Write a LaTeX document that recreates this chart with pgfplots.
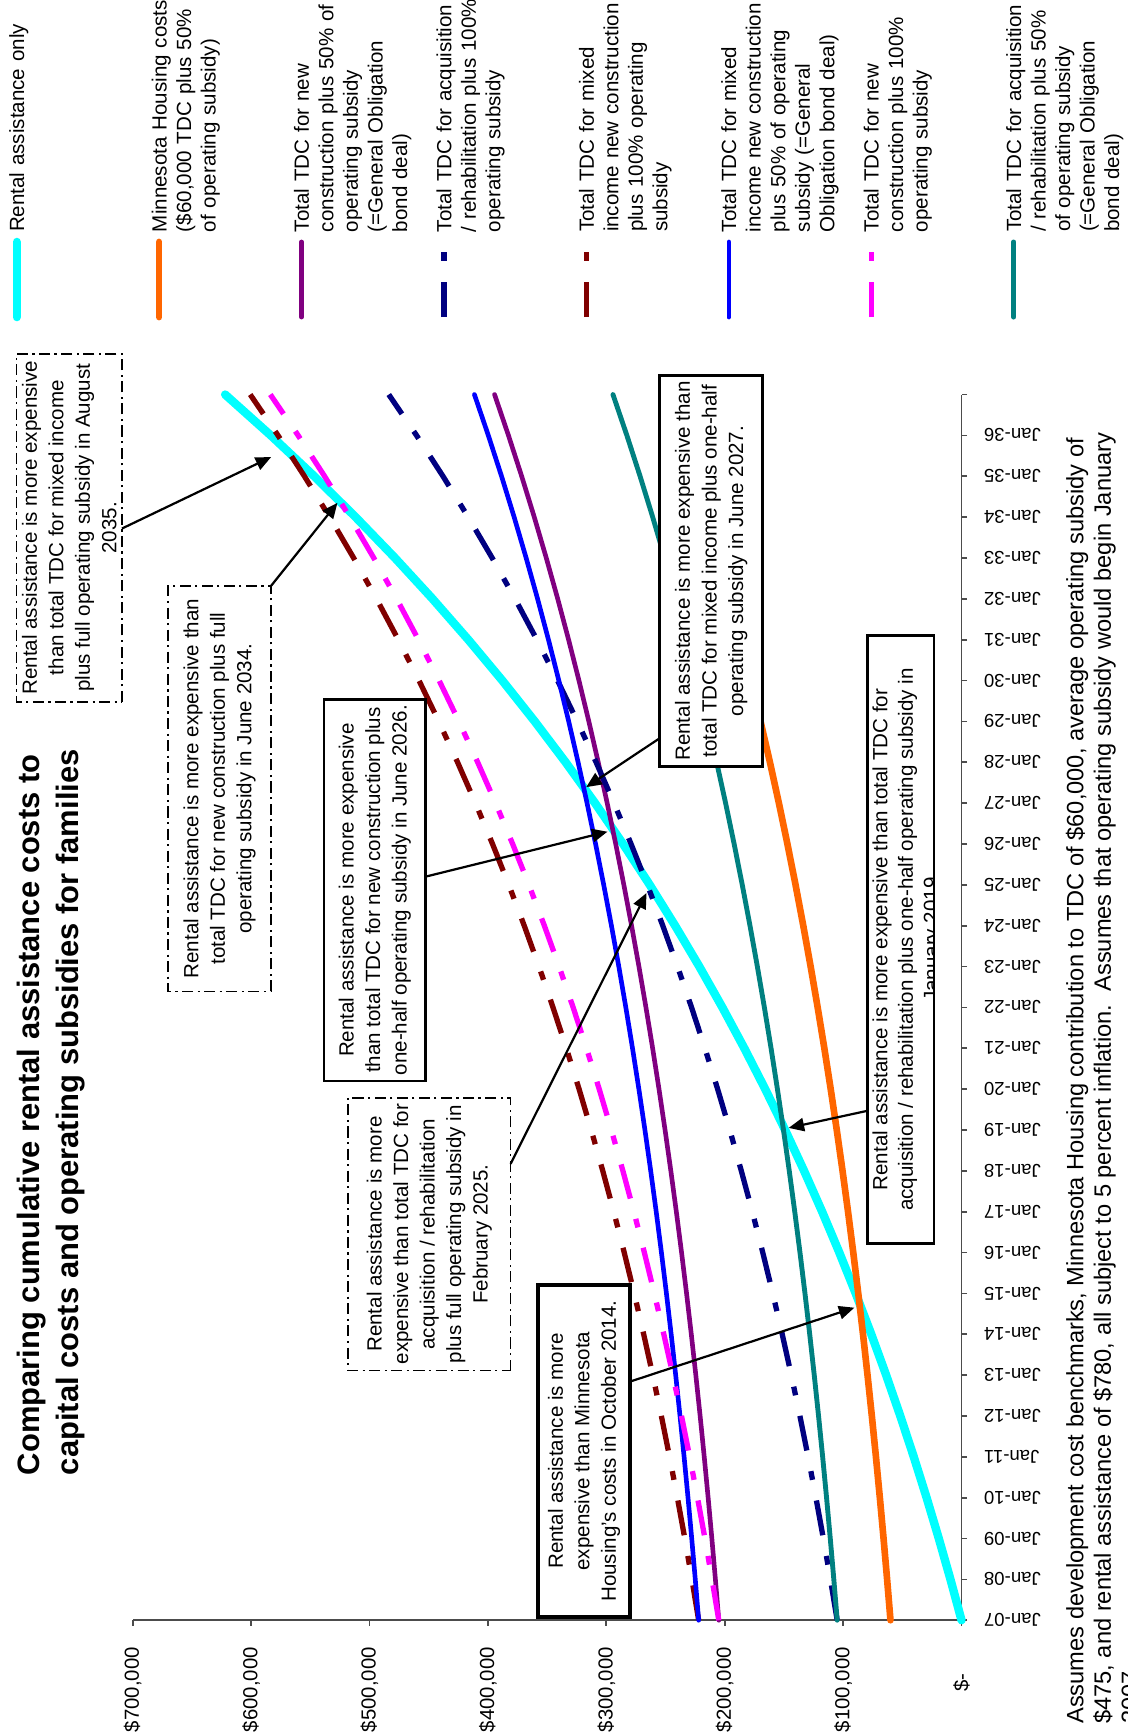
\documentclass[border=0pt]{standalone}
\usepackage{pgfplots}
\pgfplotsset{compat=1.18}
\usepackage{pgfplotstable}
\usepackage{fontspec}
\setmainfont{Liberation Sans}
\usetikzlibrary{arrows.meta}

\definecolor{cRent}{HTML}{00FFFF}
\definecolor{cMN}{HTML}{FF6600}
\definecolor{cPurple}{HTML}{800080}
\definecolor{cNavy}{HTML}{000080}
\definecolor{cMaroon}{HTML}{800000}
\definecolor{cBlue}{HTML}{0000FF}
\definecolor{cMagenta}{HTML}{FF00FF}
\definecolor{cTeal}{HTML}{008080}

\pgfplotstableread{
n rent mn newhalf acqfull mixfull mixhalf newfull acqhalf
0 0 60000 205000 105000 222000 222000 205000 105000
1 9360 62850 207850 110700 227700 224850 210700 107850
2 19188 65843 210843 116686 233686 227843 216686 110843
3 29507 68985 213985 122970 239970 230985 222970 113985
4 40343 72284 217284 129568 246568 234284 229568 117284
5 51720 75748 220748 136496 253496 237748 236496 120748
6 63666 79385 224385 143770 260770 241385 243770 124385
7 76209 83205 228205 151410 268410 245205 251410 128205
8 89380 87215 232215 159430 276430 249215 259430 132215
9 103209 91426 236426 167852 284852 253426 267852 136426
10 117729 95847 240847 176694 293694 257847 276694 140847
11 132976 100489 245489 185978 302978 262489 285978 145489
12 148984 105364 250364 195728 312728 267364 295728 150364
13 165794 110482 255482 205964 322964 272482 305964 155482
14 183443 115856 260856 216712 333712 277856 316712 160856
15 201976 121499 266499 227998 344998 283499 327998 166499
16 221434 127424 272424 239848 356848 289424 339848 172424
17 241866 133645 278645 252290 369290 295645 352290 178645
18 263319 140177 285177 265354 382354 302177 365354 185177
19 285845 147036 292036 279072 396072 309036 379072 192036
20 309498 154238 299238 293476 410476 316238 393476 199238
21 334333 161800 306800 308600 425600 323800 408600 206800
22 360409 169740 314740 324480 441480 331740 424480 214740
23 387789 178077 323077 341154 458154 340077 441154 223077
24 416539 186831 331831 358662 475662 348831 458662 231831
25 446726 196022 341022 377044 494044 358022 477044 241022
26 478422 205673 350673 396346 513346 367673 496346 250673
27 511703 215807 360807 416614 533614 377807 516614 260807
28 546648 226447 371447 437894 554894 388447 537894 271447
29 583340 237620 382620 460240 577240 399620 560240 282620
30 621867 249351 394351 483702 600702 411351 583702 294351
}\costs

\tikzset{
  dashdotlong/.style={dash pattern=on 16pt off 9.5pt on 4pt off 9.5pt},
  annot/.style={align=center, font=\fontsize{9.3}{12}\selectfont, inner sep=0pt, rotate=90},
  arr/.style={-{Triangle[length=7pt,width=6pt]}, line width=1pt, black},
  dbox/.style={draw=black, line width=0.8pt, dash pattern=on 5pt off 2pt on 1pt off 2pt, fill=white},
  sbox/.style={draw=black, line width=1.2pt, fill=white},
}

\begin{document}
\begin{tikzpicture}
\begin{axis}[
  scale only axis, width=375pt, height=554.5pt,
  xmin=0, xmax=700000, ymin=0, ymax=30,
  x dir=reverse,
  clip=false,
  axis x line*=bottom, axis y line*=right,
  axis line style={black!70, line width=0.8pt},
  every tick/.style={black!70, line width=0.8pt},
  tick align=outside, major tick length=2.5pt,
  ytick={0,1,...,30},
  yticklabels={Jan-07,Jan-08,Jan-09,Jan-10,Jan-11,Jan-12,Jan-13,Jan-14,Jan-15,Jan-16,Jan-17,Jan-18,Jan-19,Jan-20,Jan-21,Jan-22,Jan-23,Jan-24,Jan-25,Jan-26,Jan-27,Jan-28,Jan-29,Jan-30,Jan-31,Jan-32,Jan-33,Jan-34,Jan-35,Jan-36,{}},
  yticklabel style={xshift=7.5pt, rotate=180, anchor=east, font=\fontsize{8.4}{10}\selectfont, inner sep=0pt},
  xtick={0,100000,200000,300000,400000,500000,600000,700000},
  xticklabels={{\$-\hspace*{12pt}},{\$100,000},{\$200,000},{\$300,000},{\$400,000},{\$500,000},{\$600,000},{\$700,000}},
  xticklabel style={yshift=-9.5pt, rotate=90, anchor=east, font=\fontsize{9.2}{11}\selectfont, inner sep=0pt},
  scaled x ticks=false,
  legend columns=-1,
  legend image code/.code={\draw[#1, overlay] (3.67pt,-38.5pt) -- (3.67pt,-4.5pt);},
  legend style={
    at={(axis description cs:-0.1496,1.1326)}, anchor=south west,
    draw=none, fill=none, inner sep=0pt, outer sep=0pt,
    row sep=0pt, column sep=0pt,
    font=\fontsize{9.3}{11.1}\selectfont,
    nodes={rotate=90, inner sep=0pt, text width=115pt, text height=7.0pt, text depth=57.43pt, align=left, font=\fontsize{9.3}{11.1}\selectfont},
    cells={anchor=north west},
  },
]
\addplot[cRent, line width=3.8pt, line cap=round, line join=round] table[x=rent,y=n]{\costs};
\addlegendentry{Rental assistance only}
\addplot[cMN, line width=3pt, line cap=round, line join=round] table[x=mn,y=n]{\costs};
\addlegendentry{Minnesota Housing costs\\(\$60,000 TDC plus 50\%\\of operating subsidy)}
\addplot[cPurple, line width=2.1pt, line cap=round, line join=round] table[x=newhalf,y=n]{\costs};
\addlegendentry{Total TDC for new\\construction plus 50\% of\\operating subsidy\\(=General Obligation\\bond deal)}
\addplot[cNavy, line width=2.4pt, dashdotlong] table[x=acqfull,y=n]{\costs};
\addlegendentry{Total TDC for acquisition\\/ rehabilitation plus 100\%\\operating subsidy}
\addplot[cMaroon, line width=2.4pt, dashdotlong] table[x=mixfull,y=n]{\costs};
\addlegendentry{Total TDC for mixed\\income new construction\\plus 100\% operating\\subsidy}
\addplot[cBlue, line width=2.1pt, line cap=round, line join=round] table[x=mixhalf,y=n]{\costs};
\addlegendentry{Total TDC for mixed\\income new construction\\plus 50\% of operating\\subsidy (=General\\Obligation bond deal)}
\addplot[cMagenta, line width=2.4pt, dashdotlong] table[x=newfull,y=n]{\costs};
\addlegendentry{Total TDC for new\\construction plus 100\%\\operating subsidy}
\addplot[cTeal, line width=2.2pt, line cap=round, line join=round] table[x=acqhalf,y=n]{\costs};
\addlegendentry{Total TDC for acquisition\\/ rehabilitation plus 50\%\\of operating subsidy\\(=General Obligation\\bond deal)}

% Box A
\draw[dbox] (axis cs:709000,22.48) rectangle (axis cs:798000,31.0);
\node[annot] at (axis cs:753500,26.74) {Rental assistance is more expensive\\than total TDC for mixed income\\plus full operating subsidy in August\\2035.};
\draw[arr] (axis cs:709000,26.72) -- (axis cs:583000,28.47);
% Box B
\draw[dbox] (axis cs:583000,15.39) rectangle (axis cs:670000,25.32);
\node[annot] at (axis cs:626500,20.355) {Rental assistance is more expensive than\\total TDC for new construction plus full\\operating subsidy in June 2034.};
\draw[arr] (axis cs:583000,25.32) -- (axis cs:527000,27.35);
% Box C
\draw[sbox] (axis cs:452600,13.2) rectangle (axis cs:538500,22.53);
\node[annot] at (axis cs:495500,17.87) {Rental assistance is more expensive\\than total TDC for new construction plus\\one-half operating subsidy in June 2026.};
\draw[arr] (axis cs:452600,18.2) -- (axis cs:299000,19.3);
% Box D
\draw[dbox] (axis cs:380800,6.11) rectangle (axis cs:518000,12.79);
\node[annot] at (axis cs:449400,9.45) {Rental assistance is more\\expensive than total TDC for\\acquisition / rehabilitation\\plus full operating subsidy in\\February 2025.};
\draw[arr] (axis cs:380800,11.17) -- (axis cs:266000,17.8);
% Box E
\draw[sbox, line width=1.8pt] (axis cs:280000,0.08) rectangle (axis cs:357500,8.2);
\node[annot] at (axis cs:318750,4.14) {Rental assistance is more\\expensive than Minnesota\\Housing's costs in October 2014.};
\draw[arr] (axis cs:280000,5.84) -- (axis cs:90500,7.65);
% Box F
\draw[sbox] (axis cs:168000,20.9) rectangle (axis cs:254800,30.46);
\node[annot] at (axis cs:211400,25.68) {Rental assistance is more expensive than\\total TDC for mixed income plus one-half\\operating subsidy in June 2027.};
\draw[arr] (axis cs:254800,21.59) -- (axis cs:317000,20.39);
% Box G
\draw[sbox] (axis cs:23300,9.22) rectangle (axis cs:79300,24.1);
\begin{scope}
\clip (axis cs:23300,9.22) rectangle (axis cs:79300,24.1);
\node[annot, anchor=north, font=\fontsize{9.3}{11.5}\selectfont] at (axis cs:75600,16.66) {Rental assistance is more expensive than total TDC for\\acquisition / rehabilitation plus one-half operating subsidy in\\January 2019};
\end{scope}
\draw[arr] (axis cs:79300,12.47) -- (axis cs:146000,12.05);

% Title
\node[rotate=90, anchor=north west, inner sep=0pt, align=left, font=\bfseries\fontsize{14}{17.5}\selectfont] at (axis description cs:-0.14,0.1181) {Comparing cumulative rental assistance costs to\\capital costs and operating subsidies for families};
% Footnote
\node[rotate=90, anchor=north west, inner sep=0pt, align=left, font=\fontsize{10.7}{12.4}\selectfont] at (axis description cs:1.1253,-0.0848) {Assumes development cost benchmarks, Minnesota Housing contribution to TDC of \$60,000, average operating subsidy of\\\$475, and rental assistance of \$780, all subject to 5 percent inflation.\ \ Assumes that operating subsidy would begin January\\2007};

\coordinate (bbBL) at (axis description cs:-0.16,-0.092);
\coordinate (bbTR) at (axis description cs:1.2,1.3219);
\end{axis}
\pgfresetboundingbox
\path[use as bounding box] (bbBL) rectangle (bbTR);
\end{tikzpicture}
\end{document}
